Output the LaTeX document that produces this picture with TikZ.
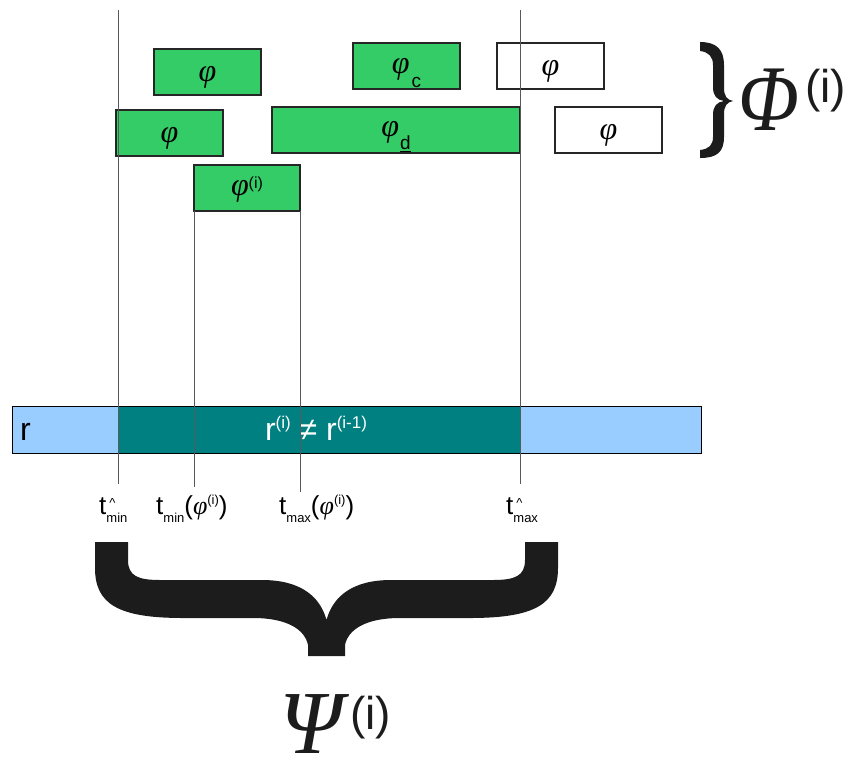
\documentclass[tikz,border=0pt]{standalone}
\usepackage{fontspec}
\usepackage{graphicx}
\setmainfont{Liberation Sans}
\newfontfamily\timesfam{Liberation Serif}
\definecolor{gfill}{HTML}{33CC66}
\definecolor{tealc}{HTML}{008080}
\definecolor{lblue}{HTML}{99CCFF}
\definecolor{bracec}{HTML}{1C1C1C}
\newcommand{\fsz}[1]{\fontsize{#1}{#1}\selectfont}
\newcommand{\phig}{{\timesfam\itshape φ}}
\newcommand{\subtxt}[1]{\raisebox{-8pt}{\fsz{13}#1}}
\newcommand{\suptxt}[1]{\raisebox{10pt}{\fsz{13}#1}}
\newcommand{\hatmark}{\makebox[0pt][l]{\hspace{3pt}\raisebox{7pt}{\fsz{13}\textasciicircum}}}
\newcommand{\boxsub}[1]{\raisebox{-13.5pt}{\fsz{19}#1}}
\newcommand{\boxsup}[1]{\raisebox{7pt}{\fsz{16}#1}}
\newcommand{\rsup}[1]{\raisebox{12pt}{\fsz{17}#1}}
\begin{document}
\begin{tikzpicture}[x=1pt,y=-1pt,
 box/.style={draw=black!85, line width=1.2pt, minimum height=46pt, inner sep=0pt, outer sep=0pt, text height=21pt, text depth=3pt, font=\fsz{32}},
 gbox/.style={box, fill=gfill},
 wbox/.style={box, fill=white},
 guide/.style={draw=black!65, line width=1pt},
 lab/.style={anchor=base west, inner sep=0pt, font=\fsz{26}},
 bigsym/.style={anchor=base west, inner sep=0pt, text=bracec, text depth=0pt},
 barbox/.style={draw=black, line width=1pt, minimum height=47pt, inner sep=0pt, outer sep=0pt}
]
\useasboundingbox (0,0) rectangle (851,758);
% bar
\node[barbox, fill=lblue, minimum width=689pt] (rbar) at (356.5,429.5) {};
\node[barbox, fill=tealc, minimum width=402pt] (rmid) at (319,429.5) {};
\node[anchor=base west, inner sep=0pt, font=\fsz{32}] (rlab) at (20,440) {r};
\node[anchor=base, inner sep=0pt, font=\fsz{32}, text=white] (rneq) at (316,440) {r\rsup{(i)} ≠ r\rsup{(i-1)}};
% boxes
\node[gbox, minimum width=107pt] (p1) at (207.5,72) {\phig};
\node[gbox, minimum width=107pt, text height=19.5pt, text depth=4.5pt] (pc) at (406.5,66) {\phig\kern2pt\boxsub{c}};
\node[wbox, minimum width=107pt] (pw1) at (550.5,66) {\phig};
\node[gbox, minimum width=107pt] (p2) at (169.5,133) {\phig};
\node[gbox, minimum width=248pt, text height=18pt, text depth=6pt] (pd) at (396,130) {\phig\kern1pt\boxsub{\underline{d}}};
\node[wbox, minimum width=107pt] (pw2) at (608.5,130) {\phig};
\node[gbox, minimum width=106pt, text height=19pt, text depth=5pt] (pi) at (247,188) {\phig\boxsup{(i)}};
% guides
\coordinate (g1t) at (118,10); \coordinate (g1b) at (118,484);
\coordinate (g4t) at (520,10); \coordinate (g4b) at (520,484);
\coordinate (g2b) at (194,487); \coordinate (g3b) at (300,492);
\draw[guide] (g1t) -- (g1b);
\draw[guide] (g4t) -- (g4b);
\draw[guide] (pi.south west) -- (g2b);
\draw[guide] (pi.south east) -- (g3b);
% labels
\node[lab] (l1) at (99,514) {t\hatmark\subtxt{min}};
\node[lab] (l2) at (156,514) {t\subtxt{min}(\phig\suptxt{(i)})};
\node[lab] (l3) at (279,514) {t\subtxt{max}(\phig\suptxt{(i)})};
\node[lab] (l4) at (506,514) {t\hatmark\subtxt{max}};
% Phi brace
\fill[bracec] (700,42) .. controls (717,42) and (724,50) .. (724,65) -- (724,88) .. controls (724,96) and (727,100) .. (733,101) .. controls (727,102) and (724,106) .. (724,114) -- (724,137) .. controls (724,152) and (717,158) .. (700,158) -- (700,150) .. controls (709,149) and (713,145) .. (713,137) -- (713,115) .. controls (713,106) and (717,102) .. (724,101) .. controls (717,100) and (713,96) .. (713,87) -- (713,65) .. controls (713,57) and (709,52) .. (700,51) -- cycle;
\node[bigsym, font=\timesfam\itshape\fsz{94}] (phiT) at (738,130) {\scalebox{0.85}[1]{Φ}};
\node[bigsym, font=\fsz{46}] (phiS) at (805,102) {(i)};
% big brace
\fill[bracec] (95,542) -- (128,542) -- (128,560) .. controls (128,576) and (138,580) .. (160,580) -- (262,580) .. controls (300,580) and (320,596) .. (326.5,620) .. controls (333,596) and (353,580) .. (391,580) -- (493,580) .. controls (515,580) and (525,576) .. (525,560) -- (525,542) -- (558,542) -- (558,568) .. controls (558,604) and (535,618) .. (470,618) -- (400,618) .. controls (365,618) and (348,630) .. (345,645) -- (345,656) -- (308,656) -- (308,645) .. controls (305,630) and (288,618) .. (253,618) -- (183,618) .. controls (118,618) and (95,604) .. (95,568) -- cycle;
\node[bigsym, font=\timesfam\itshape\fsz{90}] (psiT) at (279,753) {Ψ};
\node[bigsym, font=\fsz{46}] (psiS) at (350,729) {(i)};
\end{tikzpicture}
\end{document}
